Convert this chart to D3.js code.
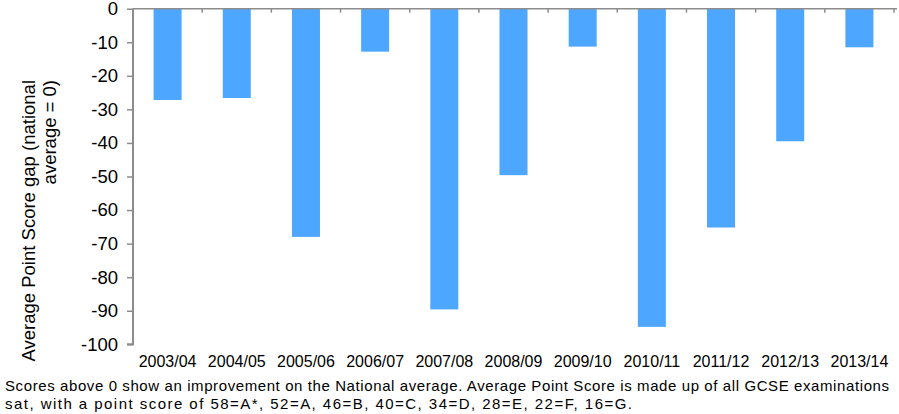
<!DOCTYPE html>
<html>
<head>
<meta charset="utf-8">
<script src="https://cdn.jsdelivr.net/npm/d3@7"></script>
<style>
  body { margin: 0; background: #fff; }
  svg { display: block; font-family: "Liberation Sans", Arial, Helvetica, sans-serif; }
</style>
</head>
<body>
<svg id="chart" width="899" height="414"></svg>
<script>
const categories = ["2003/04","2004/05","2005/06","2006/07","2007/08","2008/09","2009/10","2010/11","2011/12","2012/13","2013/14"];
const values = [-27.2, -26.6, -68.0, -12.8, -89.6, -49.6, -11.3, -94.8, -65.2, -39.5, -11.5];
const yTicks = [0,-10,-20,-30,-40,-50,-60,-70,-80,-90,-100];
const yTitleLines = ["Average Point Score gap (national", "average = 0)"];
const footnote = [
  "Scores above 0 show an improvement on the National average. Average Point Score is made up of all GCSE examinations",
  "sat, with a point score of 58=A*, 52=A, 46=B, 40=C, 34=D, 28=E, 22=F, 16=G."
];
const footnoteWidths = [884, 627];

const svg = d3.select("#chart");
const mLeft = 133, mRight = 894, mTop = 8.7, mBottom = 344.3;
const axisColor = "#8c8c8c";

const xb = d3.scaleBand().domain(categories).range([mLeft, mRight]);
const y = d3.scaleLinear().domain([-100, 0]).range([mBottom, mTop]);

// bars
svg.append("g").selectAll("rect").data(values).join("rect")
  .attr("x", (d,i) => xb(categories[i]) + xb.bandwidth()/2 - 14)
  .attr("width", 28)
  .attr("y", y(0))
  .attr("height", d => y(d) - y(0))
  .attr("fill", "#4da6ff");

// y axis
const yAxis = d3.axisLeft(y).tickValues(yTicks).tickSize(6).tickPadding(9).tickFormat(d => String(d));
const gy = svg.append("g").attr("transform", `translate(${mLeft},0)`).call(yAxis);
gy.select(".domain").attr("stroke", axisColor).attr("stroke-width", 2).attr("d", `M-6,${mBottom}H0V${mTop}`);
gy.selectAll(".tick line").attr("stroke", axisColor).attr("stroke-width", 1.5);
gy.selectAll(".tick text").attr("font-size", 18.5).attr("fill", "#000")
  .attr("font-family", "'Liberation Sans', Arial, sans-serif");

// x axis line at 0 with boundary ticks
const gx = svg.append("g");
gx.append("line").attr("x1", mLeft).attr("x2", 897).attr("y1", y(0)).attr("y2", y(0))
  .attr("stroke", axisColor).attr("stroke-width", 1.5);
const bounds = categories.map(c => xb(c)).concat([xb(categories[categories.length-1]) + xb.bandwidth()]);
gx.selectAll("line.bt").data(bounds.slice(1)).join("line").attr("class","bt")
  .attr("x1", d => d).attr("x2", d => d).attr("y1", y(0)).attr("y2", y(0) + 4)
  .attr("stroke", axisColor).attr("stroke-width", 1.5);

// x labels
svg.append("g").selectAll("text").data(categories).join("text")
  .attr("x", d => xb(d) + xb.bandwidth()/2)
  .attr("y", 366.5)
  .attr("text-anchor", "middle")
  .attr("font-size", 16)
  .attr("fill", "#000")
  .text(d => d);

// y title
const yt = svg.append("text")
  .attr("transform", "translate(35,80) rotate(-90)")
  .attr("text-anchor", "end")
  .attr("font-size", 18.5)
  .attr("fill", "#000");
yt.selectAll("tspan").data(yTitleLines).join("tspan")
  .attr("x", 0).attr("y", (d,i) => i * 21)
  .text(d => d);

// footnote
svg.append("g").selectAll("text").data(footnote).join("text")
  .attr("x", 5).attr("y", (d,i) => 391 + i * 18)
  .attr("font-size", 15)
  .attr("fill", "#000")
  .attr("textLength", (d,i) => footnoteWidths[i])
  .attr("lengthAdjust", "spacing")
  .text(d => d);
</script>
</body>
</html>
